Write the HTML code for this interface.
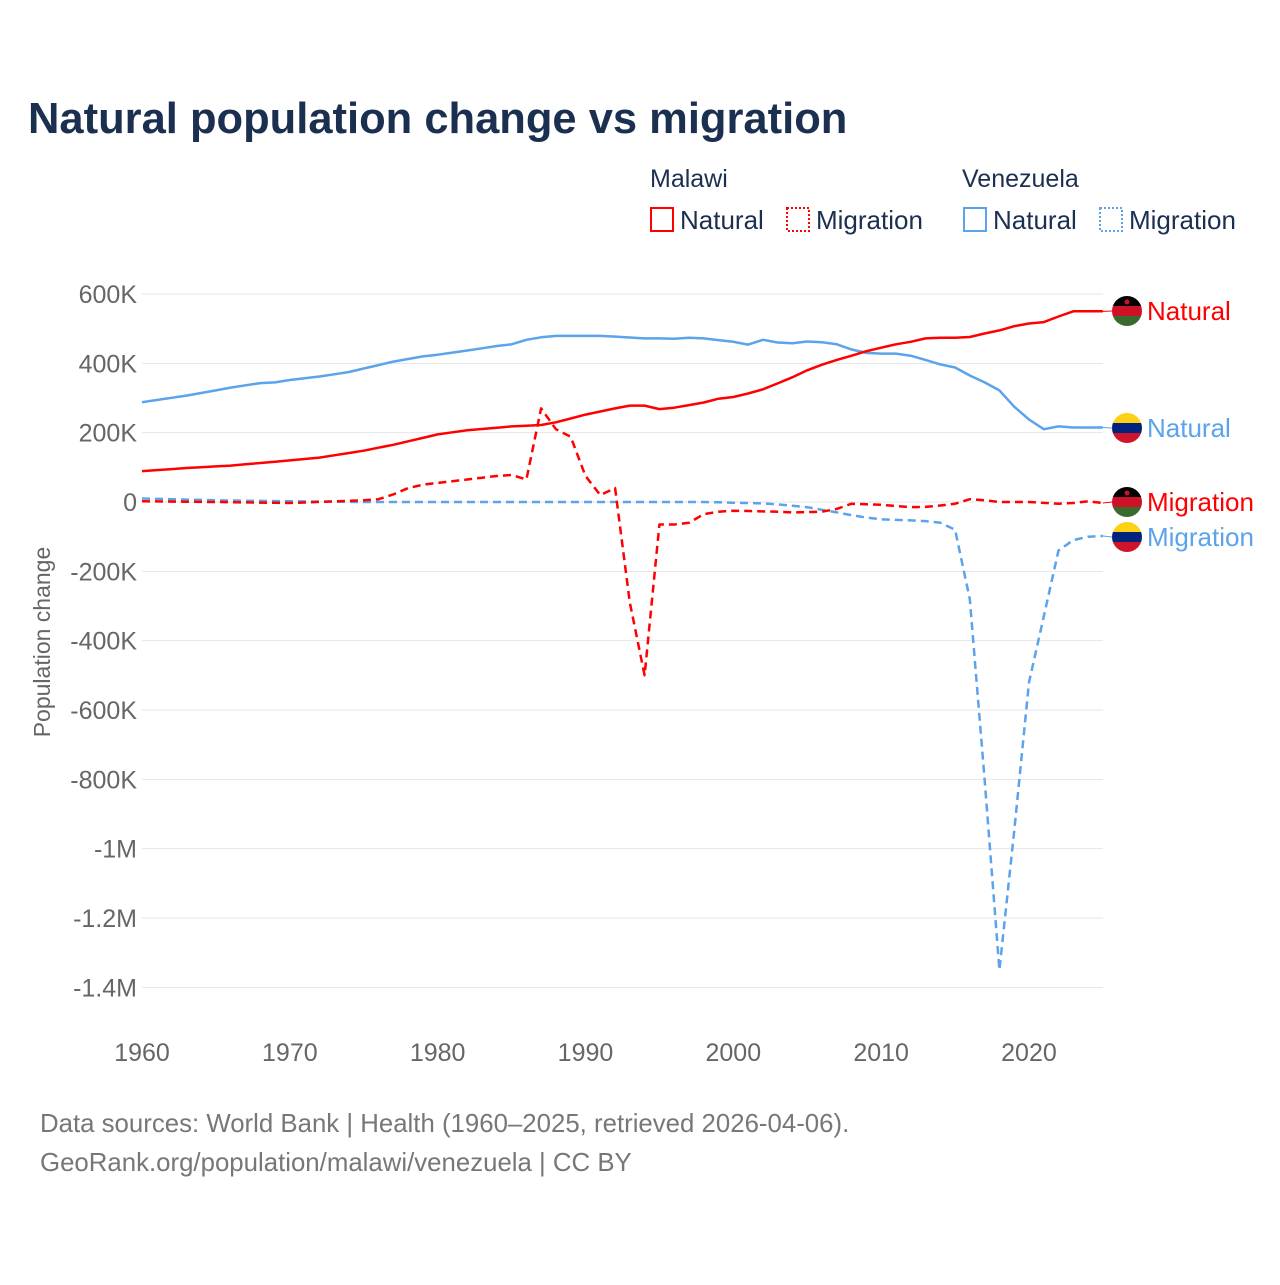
<!DOCTYPE html>
<html><head><meta charset="utf-8"><style>
body{margin:0;background:#fff;font-family:"Liberation Sans",sans-serif}
svg text{font-family:"Liberation Sans",sans-serif}
</style></head><body>
<svg id="chart" width="1280" height="1280" xmlns="http://www.w3.org/2000/svg">
<text x="28" y="133" font-size="43.5" font-weight="bold" fill="#1b2f50">Natural population change vs migration</text>
<g>
<text x="650" y="187" font-size="25" fill="#1b2f50">Malawi</text>
<text x="962" y="187" font-size="25" fill="#1b2f50">Venezuela</text>
<rect x="651" y="208" width="22" height="23" fill="none" stroke="#f00" stroke-width="2"/>
<text x="680" y="229" font-size="26" fill="#1b2f50">Natural</text>
<rect x="787" y="208" width="22" height="23" fill="none" stroke="#f00" stroke-width="2" stroke-dasharray="2 2"/>
<text x="816" y="229" font-size="26" fill="#1b2f50">Migration</text>
<rect x="964" y="208" width="22" height="23" fill="none" stroke="#5ba3ea" stroke-width="2"/>
<text x="993" y="229" font-size="26" fill="#1b2f50">Natural</text>
<rect x="1100" y="208" width="22" height="23" fill="none" stroke="#5ba3ea" stroke-width="2" stroke-dasharray="2 2"/>
<text x="1129" y="229" font-size="26" fill="#1b2f50">Migration</text>
</g>
<text transform="translate(50,642) rotate(-90)" text-anchor="middle" font-size="23" fill="#666">Population change</text>
<g id="grid"></g><g id="series"></g><g id="labels"></g>
<text x="40" y="1132" font-size="25.8" fill="#777">Data sources: World Bank | Health (1960–2025, retrieved 2026-04-06).</text>
<text x="40" y="1171" font-size="25.8" fill="#777">GeoRank.org/population/malawi/venezuela | CC BY</text>
</svg>
<script>
const years=[];for(let y=1960;y<=2025;y++)years.push(y);
const yTicks=[600,400,200,0,-200,-400,-600,-800,-1000,-1200,-1400];
const yTickLabels=["600K","400K","200K","0","-200K","-400K","-600K","-800K","-1M","-1.2M","-1.4M"];
const xTicks=[1960,1970,1980,1990,2000,2010,2020];
const malawiNatural=[[1960,89],[1963,98],[1966,105],[1970,120],[1972,128],[1975,148],[1977,165],[1980,195],[1982,207],[1985,218],[1987,222],[1988,230],[1990,252],[1992,270],[1993,278],[1994,278],[1995,268],[1996,272],[1998,287],[1999,298],[2000,303],[2001,313],[2002,325],[2003,342],[2004,360],[2005,380],[2006,396],[2007,410],[2008,422],[2009,435],[2010,445],[2011,455],[2012,462],[2013,472],[2014,474],[2015,474],[2016,476],[2017,486],[2018,495],[2019,507],[2020,515],[2021,519],[2022,535],[2023,550],[2024,550],[2025,550]];
const venezuelaNatural=[[1960,288],[1963,307],[1965,322],[1966,330],[1968,343],[1969,345],[1970,352],[1972,362],[1974,375],[1975,385],[1977,405],[1979,420],[1980,425],[1982,437],[1984,450],[1985,455],[1986,468],[1987,475],[1988,479],[1991,479],[1992,477],[1994,472],[1995,472],[1996,471],[1997,474],[1998,472],[1999,467],[2000,462],[2001,454],[2002,468],[2003,460],[2004,458],[2005,463],[2006,461],[2007,455],[2008,440],[2009,430],[2010,428],[2011,428],[2012,422],[2013,410],[2014,397],[2015,388],[2016,365],[2017,345],[2018,322],[2019,275],[2020,238],[2021,210],[2022,218],[2023,215],[2024,215],[2025,215]];
const malawiMigration=[[1960,2],[1965,0],[1970,-3],[1973,2],[1975,5],[1976,8],[1977,22],[1978,40],[1979,50],[1980,55],[1982,65],[1984,75],[1985,78],[1986,65],[1987,270],[1988,210],[1989,188],[1990,75],[1991,20],[1992,40],[1993,-290],[1994,-500],[1995,-65],[1996,-65],[1997,-60],[1998,-35],[1999,-28],[2000,-25],[2003,-28],[2004,-30],[2006,-28],[2007,-20],[2008,-5],[2010,-8],[2012,-15],[2013,-14],[2014,-10],[2015,-5],[2016,8],[2017,5],[2018,0],[2020,0],[2022,-5],[2023,-3],[2024,2],[2025,-3]];
const venezuelaMigration=[[1960,10],[1965,5],[1970,2],[1975,0],[1990,0],[1998,0],[2000,-2],[2002,-4],[2003,-7],[2005,-15],[2007,-30],[2008,-38],[2009,-45],[2010,-50],[2012,-53],[2013,-55],[2014,-60],[2015,-80],[2016,-280],[2017,-800],[2018,-1350],[2019,-950],[2020,-520],[2021,-330],[2022,-140],[2023,-110],[2024,-100],[2025,-98]];
const NS="http://www.w3.org/2000/svg";
const X=y=>142+(y-1960)*14.783;
const Y=v=>502-v*0.34667;
function expand(kf){const o=[];for(const yr of years){let i=0;while(i<kf.length-1&&kf[i+1][0]<yr)i++;const a=kf[i],b=kf[Math.min(i+1,kf.length-1)];let v=a[1];if(b[0]!==a[0]&&yr>=a[0])v=a[1]+(b[1]-a[1])*(yr-a[0])/(b[0]-a[0]);if(yr===a[0])v=a[1];o.push(v);}return o;}
function mk(tag,at,parent){const e=document.createElementNS(NS,tag);for(const k in at)e.setAttribute(k,at[k]);parent.appendChild(e);return e;}
const grid=document.getElementById('grid');
yTicks.forEach((t,i)=>{
 const l=mk('line',{x1:142,x2:1103,y1:Y(t),y2:Y(t),stroke:'#e6e6e6','stroke-width':1},grid);
 
 
 const tx=mk('text',{x:137,y:Y(t)+9,'text-anchor':'end','font-size':25,fill:'#666'},grid);
 tx.textContent=yTickLabels[i];
 
 
});
xTicks.forEach(t=>{
 const tx=mk('text',{x:X(t),y:1061,'text-anchor':'middle','font-size':25,fill:'#666'},grid);
 tx.textContent=t;
 
 
});
const ser=document.getElementById('series');
function line(kf,color,dash,name){
 const v=expand(kf);
 const d=v.map((val,i)=>(i?'L':'M')+X(years[i]).toFixed(1)+','+Y(val).toFixed(1)).join('');
 const p=mk('path',{d:d,fill:'none',stroke:color,'stroke-width':2.5,'stroke-linejoin':'round'},ser);
 if(dash)p.setAttribute('stroke-dasharray','8 5');
 
 
 return v[v.length-1];
}
const lab=document.getElementById('labels');
function endLabel(v,ly,color,text,flag,name){
 mk('line',{x1:X(2025),x2:1112,y1:Y(v),y2:ly,stroke:color,'stroke-width':1},lab);
 const g=mk('g',{},lab);
 
 
 const cid='c'+name;
 const cp=mk('clipPath',{id:cid},g);mk('circle',{cx:1127,cy:ly,r:15},cp);
 const cols=flag==='mw'?['#000','#ce1126','#3a6b2e']:['#fcd116','#00247d','#cf142b'];
 cols.forEach((c,i)=>mk('rect',{x:1112,y:ly-15+i*10,width:30,height:10,fill:c,'clip-path':'url(#'+cid+')'},g));
 if(flag==='mw')mk('circle',{cx:1127,cy:ly-9,r:2.5,fill:'#ce1126'},g);
 const t=mk('text',{x:1147,y:ly+9,'font-size':26,fill:color},lab);
 t.textContent=text;
 
 
}
const a=line(venezuelaMigration,'#5ba3ea',true,'venezuela-migration-line');
const b=line(malawiMigration,'#f00',true,'malawi-migration-line');
const c=line(venezuelaNatural,'#5ba3ea',false,'venezuela-natural-line');
const d=line(malawiNatural,'#f00',false,'malawi-natural-line');
endLabel(d,311,'#f00','Natural','mw','malawi-natural');
endLabel(c,428,'#5ba3ea','Natural','ve','venezuela-natural');
endLabel(b,502,'#f00','Migration','mw','malawi-migration');
endLabel(a,537,'#5ba3ea','Migration','ve','venezuela-migration');
</script>
</body></html>
